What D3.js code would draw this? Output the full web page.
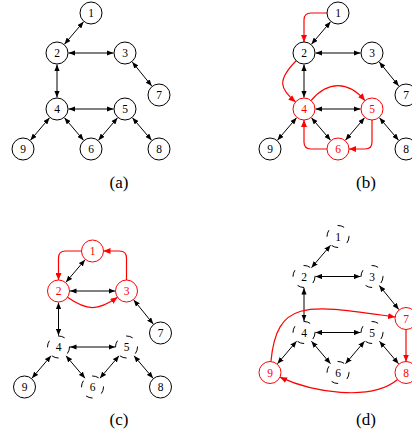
<!DOCTYPE html>
<meta charset="utf-8">
<style>
body { margin: 0; background: #fff; }
</style>
<body>
<script src="https://cdn.jsdelivr.net/npm/d3@7"></script>
<script>

// graph data: node ids, grid column and level of each node
var nodeIds   = [1, 2, 3, 4, 5, 6, 7, 8, 9];
var nodeCol   = [2, 1, 3, 1, 3, 2, 4, 4, 0];
var nodeLevel = [0, 1, 1, 2.4, 2.4, 3.4, 2.05, 3.4, 3.4];

// undirected (two-way) edges
var edges = [[1, 2], [2, 3], [3, 7], [2, 4], [4, 5], [4, 9], [4, 6], [5, 6], [5, 8]];

// the four panels: highlighted cycle (red), removed nodes (dashed), cycle edges
var panelKeys   = ["a", "b", "c", "d"];
var panelRed    = [[], [4, 5, 6], [1, 2, 3], [7, 8, 9]];
var panelDashed = [[], [], [4, 5, 6], [1, 2, 3, 4, 5, 6]];
var panelCycle  = [
  [],
  [[1, 2], [2, 4], [4, 5], [5, 6], [6, 4]],
  [[1, 2], [2, 3], [3, 1]],
  [[9, 7], [7, 8], [8, 9]]
];

// layout
var width = 412, height = 437, r = 11;
var serif = "'Liberation Serif'";
var panelOffset = [[0, 0], [247, 0], [1.5, 238], [247, 223.5]];
var labelPos = [[119, 188], [366, 188], [119, 425], [366, 425]];

var x = d3.scaleLinear().domain([0, 4]).range([23, 159]);
var y = d3.scaleLinear().domain([0, 3.4]).range([13, 149]);

// shape of each cycle edge: "hv"/"vh" elbow, or tangent curve (exit angle, entry angle, pull)
var cycleShape = {
  "1-2": {type: "hv"},
  "3-1": {type: "vh"},
  "5-6": {type: "vh"},
  "6-4": {type: "hv"},
  "2-4": {type: "curve", a0: 135, a1: -140, l0: 28, l1: 20},
  "4-5": {type: "curve", a0: -50, a1: -130, l0: 26, l1: 26},
  "2-3": {type: "curve", a0: 35, a1: 145, l0: 24, l1: 24},
  "8-9": {type: "curve", a0: 140, a1: 25, l0: 35, l1: 35},
  "9-7": {type: "curve", a0: -85, a1: -172, l0: 65, l1: 85},
  "7-8": {type: "line"}
};

var pos = {};
nodeIds.forEach(function(id, i) { pos[id] = [x(nodeCol[i]), y(nodeLevel[i])]; });

var svg = d3.select("body").append("svg")
    .attr("width", width)
    .attr("height", height);

var defs = svg.append("defs");
function marker(id, color, len, half) {
  defs.append("marker")
      .attr("id", id)
      .attr("markerUnits", "userSpaceOnUse")
      .attr("viewBox", "0 " + (-half) + " " + len + " " + (2 * half))
      .attr("refX", len)
      .attr("refY", 0)
      .attr("markerWidth", len)
      .attr("markerHeight", 2 * half)
      .attr("orient", "auto-start-reverse")
    .append("path")
      .attr("d", "M0," + (-half) + "L" + len + ",0L0," + half + "Z")
      .attr("fill", color);
}
marker("arr-black", "#000", 6.5, 2.6);
marker("arr-red", "#f00", 7, 3);

function rad(a) { return a * Math.PI / 180; }

function cyclePath(e) {
  var s = pos[e[0]], t = pos[e[1]];
  var sh = cycleShape[e[0] + "-" + e[1]];
  var p = d3.path();
  if (sh.type === "line") {
    var ang = Math.atan2(t[1] - s[1], t[0] - s[0]);
    p.moveTo(s[0] + r * Math.cos(ang), s[1] + r * Math.sin(ang));
    p.lineTo(t[0] - r * Math.cos(ang), t[1] - r * Math.sin(ang));
  } else if (sh.type === "hv" || sh.type === "vh") {
    var c = sh.type === "hv" ? [t[0], s[1]] : [s[0], t[1]];
    var d0 = [Math.sign(c[0] - s[0]), Math.sign(c[1] - s[1])];
    var d1 = [Math.sign(t[0] - c[0]), Math.sign(t[1] - c[1])];
    var rc = 7;
    p.moveTo(s[0] + r * d0[0], s[1] + r * d0[1]);
    p.lineTo(c[0] - rc * d0[0], c[1] - rc * d0[1]);
    p.quadraticCurveTo(c[0], c[1], c[0] + rc * d1[0], c[1] + rc * d1[1]);
    p.lineTo(t[0] - r * d1[0], t[1] - r * d1[1]);
  } else {
    var p0 = [s[0] + r * Math.cos(rad(sh.a0)), s[1] + r * Math.sin(rad(sh.a0))];
    var p1 = [t[0] + r * Math.cos(rad(sh.a1)), t[1] + r * Math.sin(rad(sh.a1))];
    p.moveTo(p0[0], p0[1]);
    p.bezierCurveTo(
      p0[0] + sh.l0 * Math.cos(rad(sh.a0)), p0[1] + sh.l0 * Math.sin(rad(sh.a0)),
      p1[0] + sh.l1 * Math.cos(rad(sh.a1)), p1[1] + sh.l1 * Math.sin(rad(sh.a1)),
      p1[0], p1[1]);
  }
  return p.toString();
}

panelKeys.forEach(function(key, k) {
  var g = svg.append("g")
      .attr("transform", "translate(" + panelOffset[k][0] + "," + panelOffset[k][1] + ")");

  // two-way edges
  g.selectAll(".edge")
    .data(edges)
    .enter().append("line")
      .attr("class", "edge")
      .each(function(e) {
        var s = pos[e[0]], t = pos[e[1]];
        var ang = Math.atan2(t[1] - s[1], t[0] - s[0]);
        d3.select(this)
            .attr("x1", s[0] + (r + 0.5) * Math.cos(ang))
            .attr("y1", s[1] + (r + 0.5) * Math.sin(ang))
            .attr("x2", t[0] - (r + 0.5) * Math.cos(ang))
            .attr("y2", t[1] - (r + 0.5) * Math.sin(ang));
      })
      .attr("stroke", "#000")
      .attr("stroke-width", 1)
      .attr("marker-start", "url(#arr-black)")
      .attr("marker-end", "url(#arr-black)");

  // cycle edges
  g.selectAll(".cycle")
    .data(panelCycle[k])
    .enter().append("path")
      .attr("class", "cycle")
      .attr("d", cyclePath)
      .attr("fill", "none")
      .attr("stroke", "#f00")
      .attr("stroke-width", 1.2)
      .attr("marker-end", "url(#arr-red)");

  // nodes
  var node = g.selectAll(".node")
    .data(nodeIds)
    .enter().append("g")
      .attr("class", "node")
      .attr("transform", function(id) { return "translate(" + pos[id][0] + "," + pos[id][1] + ")"; });

  node.append("circle")
      .attr("r", r)
      .attr("fill", "#fff")
      .attr("stroke", function(id) { return panelRed[k].indexOf(id) >= 0 ? "#f00" : "#000"; })
      .attr("stroke-width", 1)
      .attr("stroke-dasharray", function(id) { return panelDashed[k].indexOf(id) >= 0 ? "7,10" : null; });

  node.append("text")
      .attr("text-anchor", "middle")
      .attr("dy", "0.35em")
      .style("font-family", serif)
      .style("font-size", "11.5px")
      .attr("fill", function(id) { return panelRed[k].indexOf(id) >= 0 ? "#f00" : "#000"; })
      .text(function(id) { return id; });

  // panel label
  svg.append("text")
      .attr("x", labelPos[k][0])
      .attr("y", labelPos[k][1])
      .attr("text-anchor", "middle")
      .style("font-family", serif)
      .style("font-size", "17px")
      .text("(" + key + ")");
});

</script>
</body>
